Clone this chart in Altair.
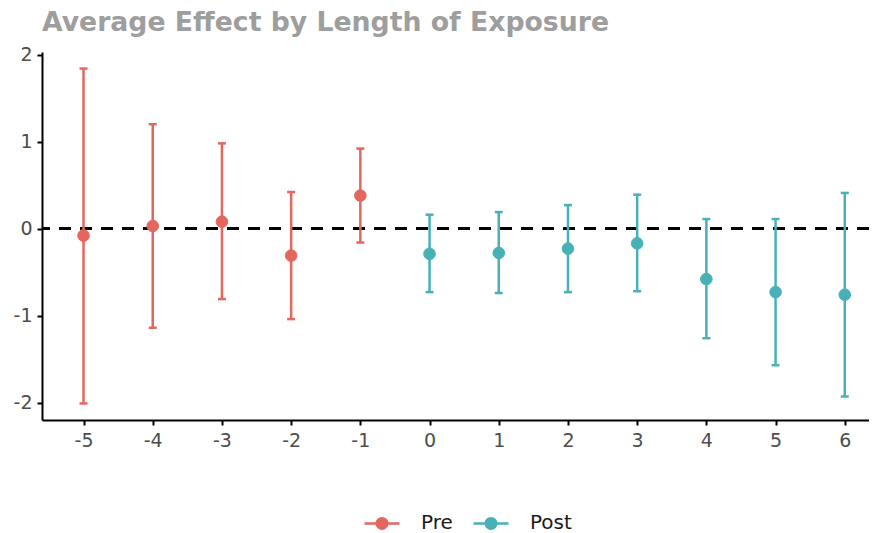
import altair as alt
import pandas as pd

periods = [-5, -4, -3, -2, -1, 0, 1, 2, 3, 4, 5, 6]
estimates = [-0.08, 0.03, 0.08, -0.31, 0.38, -0.29, -0.28, -0.23, -0.17, -0.58, -0.73, -0.76]
lower = [-2.01, -1.14, -0.81, -1.04, -0.16, -0.73, -0.74, -0.73, -0.72, -1.26, -1.57, -1.93]
upper = [1.84, 1.20, 0.98, 0.42, 0.92, 0.16, 0.19, 0.27, 0.39, 0.11, 0.11, 0.41]
groups = ["Pre" if p < 0 else "Post" for p in periods]

group_domain = ["Pre", "Post"]
group_colors = ["#E4675F", "#48B1B8"]

df = pd.DataFrame({
    "period": periods,
    "estimate": estimates,
    "lower": lower,
    "upper": upper,
    "group": groups,
})

FONT = "DejaVu Sans"

xscale = alt.Scale(domain=[-5.6, 6.35], nice=False, zero=False)
yscale = alt.Scale(domain=[-2.2, 2.03], nice=False, zero=False)
xaxis = alt.Axis(values=periods, labelExpr="datum.value + ''", title=None, grid=False)
yaxis = alt.Axis(values=[-2, -1, 0, 1, 2], labelExpr="datum.value + ''", title=None, grid=False)
cscale = alt.Scale(domain=group_domain, range=group_colors)

legend_symbol = "M-1,0H1M0.3,0A0.3,0.3,0,1,1,-0.3,0A0.3,0.3,0,1,1,0.3,0Z"
leg = alt.Legend(
    title=None, orient="none", direction="horizontal",
    legendX=321, legendY=452, symbolType=legend_symbol, symbolSize=1225,
    symbolStrokeWidth=2.5, labelFontSize=20, labelFont=FONT, labelColor="#1a1a1a",
    labelOffset=20, columnPadding=15, padding=0, symbolOpacity=1,
)

base = alt.Chart(df)

zero_line = base.mark_rule(color="black", strokeWidth=2, strokeDash=[12, 9]).encode(
    y=alt.datum(0, scale=yscale, axis=yaxis)
)

bars = base.mark_rule(strokeWidth=2.5).encode(
    x=alt.X("period:Q", scale=xscale, axis=xaxis),
    y=alt.Y("lower:Q", scale=yscale, axis=yaxis),
    y2="upper:Q",
    stroke=alt.Stroke("group:N", scale=cscale, legend=leg),
)

caps_lo = base.mark_tick(orient="horizontal", size=8, thickness=2.5, opacity=1).encode(
    x=alt.X("period:Q", scale=xscale, axis=xaxis),
    y=alt.Y("lower:Q", scale=yscale, axis=yaxis),
    fill=alt.Fill("group:N", scale=cscale, legend=leg),
)
caps_hi = base.mark_tick(orient="horizontal", size=8, thickness=2.5, opacity=1).encode(
    x=alt.X("period:Q", scale=xscale, axis=xaxis),
    y=alt.Y("upper:Q", scale=yscale, axis=yaxis),
    fill=alt.Fill("group:N", scale=cscale, legend=leg),
)

points = base.mark_circle(size=135, opacity=1, strokeWidth=1).encode(
    x=alt.X("period:Q", scale=xscale, axis=xaxis),
    y=alt.Y("estimate:Q", scale=yscale, axis=yaxis),
    fill=alt.Fill("group:N", scale=cscale, legend=leg),
    stroke=alt.Stroke("group:N", scale=cscale, legend=leg),
)

chart = alt.layer(zero_line, bars, caps_lo, caps_hi, points).properties(
    width=827,
    height=368,
    autosize=alt.AutoSizeParams(type="none"),
    padding={"left": 34, "top": 44, "right": 0, "bottom": 113},
    title=alt.TitleParams(
        text="Average Effect by Length of Exposure",
        anchor="start", frame="group", fontSize=26.7, fontWeight="bold", color="#9E9E9E",
        font=FONT, offset=9,
    ),
).configure_view(stroke=None).configure_axis(
    domainColor="black", domainWidth=2, tickColor="black", tickWidth=2, tickSize=5,
    labelFont=FONT, labelFontSize=19, labelColor="#4D4D4D", labelPadding=6,
).configure_axisY(labelPadding=5)

chart.save("out.html", embed_options={"renderer": "svg", "actions": False})
